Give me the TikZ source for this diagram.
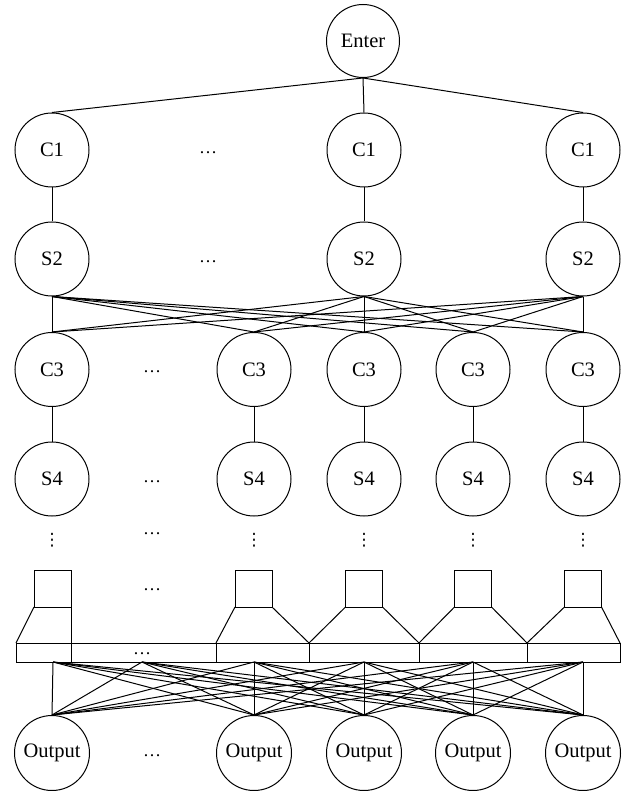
\documentclass[tikz,border=0pt]{standalone}
\usepackage{fontspec}
\setmainfont{Liberation Serif}
\newfontfamily\dvfont{DejaVu Sans}
\begin{document}
\begin{tikzpicture}[x=1pt,y=-1pt,line width=1pt,
  unit/.style={circle,draw,minimum size=74pt,inner sep=0pt,font=\fontsize{20.5}{20.5}\selectfont},
  dts/.style={inner sep=0pt,font=\fontsize{18}{18}\selectfont},
  vd/.style={inner sep=0pt,font=\dvfont\fontsize{17}{17}\selectfont},
  link/.style={line width=1pt}]
\useasboundingbox (0,0) rectangle (628,791);
% nodes
\node[unit,minimum size=73pt] (enter) at (363,41) {Enter};
\node[unit] (c1a) at (52,150) {C1};
\node[unit] (c1b) at (364,150) {C1};
\node[unit] (c1c) at (583,150) {C1};
\node[unit] (s2a) at (52,259) {S2};
\node[unit] (s2b) at (364,259) {S2};
\node[unit] (s2c) at (583,259) {S2};
\foreach \n/\x in {a/52,b/254,c/364,d/473,e/583}{
  \node[unit] (c3\n) at (\x,369.5) {C3};
  \node[unit] (s4\n) at (\x,479) {S4};
  \node[unit,minimum size=75pt] (out\n) at (\x,753) {Output};
  \node[vd] (vd\n) at (\x,540) {⋮};
}
% dots
\node[dts] (d1) at (208,153) {\ldots};
\node[dts] (d2) at (208,262) {\ldots};
\node[dts] (d3) at (152,372) {\ldots};
\node[dts] (d4) at (152,482) {\ldots};
\node[dts] (d5) at (152,534) {\ldots};
\node[dts] (d6) at (152,590) {\ldots};
\node[dts] (d7) at (142,654) {\ldots};
\node[dts] (d8) at (152,756) {\ldots};
% connections
\foreach \a in {c1a,c1b,c1c} \draw[link] (enter.south) -- (\a.north);
\foreach \a in {a,b,c} \draw[link] (c1\a.south) -- (s2\a.north);
\foreach \a in {s2a,s2b,s2c}
  \foreach \b in {c3a,c3b,c3c,c3d,c3e}
    \draw[link] (\a.south) -- (\b.north);
\foreach \a in {a,b,c,d,e} \draw[link] (c3\a.south) -- (s4\a.north);
% pooling blocks
\foreach \cx in {52.5,253.5,364,473,583}
  \draw[link] (\cx-18.5,570) rectangle (\cx+18.5,607);
\draw[link] (34,607) -- (16,643);
\draw[link] (71,607) -- (71,643);
\draw[link] (235,607) -- (216,643);
\draw[link] (272,607) -- (309,643);
\draw[link] (345.5,607) -- (309,643);
\draw[link] (382.5,607) -- (419,643);
\draw[link] (454.5,607) -- (419,643);
\draw[link] (491.5,607) -- (527,643);
\draw[link] (564.5,607) -- (527,643);
\draw[link] (601.5,607) -- (620,643);
\draw[link] (16,643) rectangle (620,662);
\foreach \dx in {71,216,309,419,527} \draw[link] (\dx,643) -- (\dx,662);
% bar outputs
\coordinate (b1) at (53,662);
\coordinate (b2) at (142,662);
\coordinate (b3) at (254,662);
\coordinate (b4) at (364,662);
\coordinate (b5) at (473,662);
\coordinate (b6) at (583,662);
\foreach \a in {b1,b2,b3,b4,b5,b6}
  \foreach \b in {outa,outb,outc,outd,oute}
    \draw[link] (\a) -- (\b.north);
\end{tikzpicture}
\end{document}
